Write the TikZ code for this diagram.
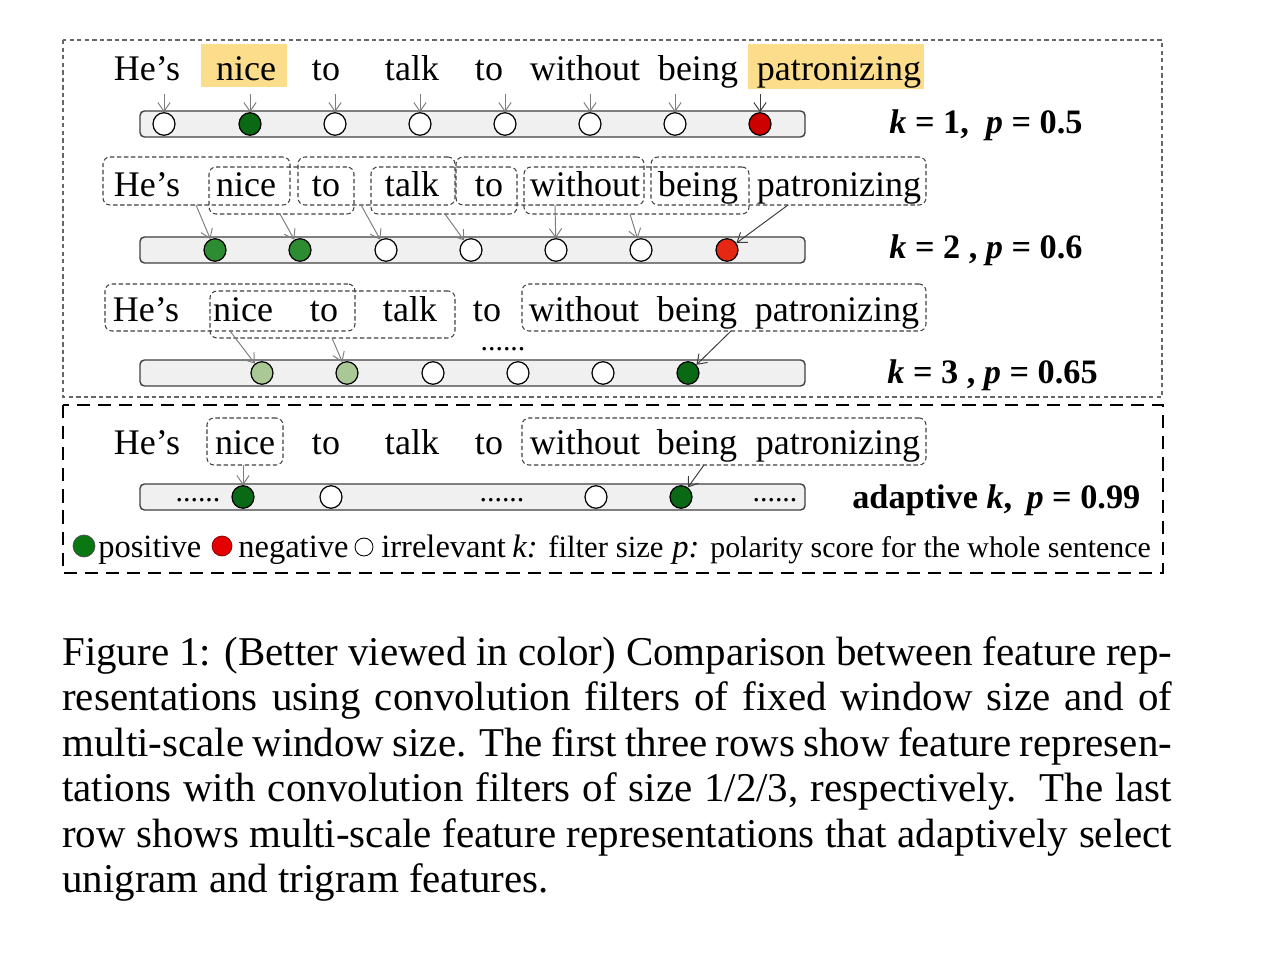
\documentclass[tikz,border=0pt]{standalone}
\usepackage{fontspec}
\setmainfont{Liberation Serif}
\usetikzlibrary{arrows.meta,shapes.geometric,fit,calc}

\definecolor{hl}{RGB}{252,221,140}
\definecolor{gdark}{RGB}{10,105,20}
\definecolor{gmid}{RGB}{45,140,50}
\definecolor{glight}{RGB}{170,200,150}
\definecolor{rdark}{RGB}{205,0,0}
\definecolor{rbright}{RGB}{228,40,20}
\definecolor{barfill}{RGB}{240,240,240}
\definecolor{arrgray}{RGB}{125,125,125}
\definecolor{arrdark}{RGB}{60,60,60}

\begin{document}
\begin{tikzpicture}[x=0.02cm,y=-0.02cm,
 word/.style={anchor=base,inner sep=0pt,font=\fontsize{20.5}{24}\selectfont},
 lab/.style={anchor=base west,inner sep=0pt,font=\fontsize{19.5}{23}\selectfont\bfseries},
 leg/.style={anchor=base west,inner sep=0pt,font=\fontsize{18.5}{21}\selectfont},
 dots/.style={anchor=base,inner sep=0pt,font=\fontsize{17}{20}\selectfont},
 capline/.style={anchor=base west,inner sep=0pt,font=\fontsize{23.3}{25.9}\selectfont},
 bar/.style={draw=black!75,line width=0.8pt,fill=barfill,rounded corners=2.5pt},
 unit/.style={ellipse,draw=black,line width=0.7pt,minimum width=0.44cm,minimum height=0.45cm,inner sep=0pt},
 arr/.style={draw=arrgray,line width=0.55pt,-{Straight Barb[length=5pt,width=7pt]}},
 arrd/.style={arr,draw=arrdark},
 win/.style={draw=black!75,dash pattern=on 2.5pt off 1.5pt,line width=0.6pt,rounded corners=4pt,inner sep=0pt},
]
\useasboundingbox (0,0) rectangle (1262,956);

% outer frames
\draw[draw=black!60, dash pattern=on 2.5pt off 1.8pt, line width=0.6pt] (63,40) rectangle (1162,397);
\draw[black, dash pattern=on 7.5pt off 4.5pt, line width=1.5pt] (63,405) rectangle (1163,573);

% ---------------- row 1 ----------------
\fill[hl] (201,44) rectangle (287,87);
\fill[hl] (748,44) rectangle (924,89);
\node[word] (w11) at (147,81) {He’s};
\node[word] (w12) at (246,81) {nice};
\node[word] (w13) at (326,81) {to};
\node[word] (w14) at (412,81) {talk};
\node[word] (w15) at (489,81) {to};
\node[word] (w16) at (585,81) {without};
\node[word] (w17) at (698,81) {being};
\node[word] (w18) at (839,81) {patronizing};
\draw[bar] (140,111) rectangle (805,137);
\foreach \i/\x/\c in {1/164/white,2/250/gdark,3/335/white,4/420/white,5/505/white,6/590/white,7/675/white,8/760/rdark}{
  \node[unit,fill=\c] (c1\i) at (\x,124) {};
  \coordinate (s1\i) at (\x,94);
}
\foreach \i in {1,...,7}{\draw[arr] (s1\i) -- (c1\i);}
\draw[arrd] (s18) -- (c18);
\node[lab] (l1) at (889,134) {\textit{k} = 1,~~\textit{p} = 0.5};

% ---------------- row 2 ----------------
\node[win,fit={(103,157) (290,205)}] (b2a) {};
\node[win,fit={(298,157) (455,205)}] (b2c) {};
\node[win,fit={(456,157) (644,205)}] (b2e) {};
\node[win,fit={(651,157) (926,205)}] (b2g) {};
\node[win,fit={(209,167) (354,214)}] (b2b) {};
\node[win,fit={(371,167) (517,214)}] (b2d) {};
\node[win,fit={(524,167) (749,214)}] (b2f) {};
\node[word] (w21) at (147,197) {He’s};
\node[word] (w22) at (246,197) {nice};
\node[word] (w23) at (326,197) {to};
\node[word] (w24) at (412,197) {talk};
\node[word] (w25) at (489,197) {to};
\node[word] (w26) at (585,197) {without};
\node[word] (w27) at (698,197) {being};
\node[word] (w28) at (839,197) {patronizing};
\draw[bar] (140,237) rectangle (805,263);
\foreach \i/\x/\c in {1/215/gmid,2/300/gmid,3/386/white,4/471/white,5/556/white,6/641/white,7/727/rbright}{
  \node[unit,fill=\c] (c2\i) at (\x,250) {};
}
\coordinate (s21) at (196,205);
\coordinate (s22) at (280,214);
\coordinate (s23) at (361,205);
\coordinate (s24) at (445,214);
\coordinate (s25) at (555,205);
\coordinate (s26) at (630,214);
\coordinate (s27) at (788,205);
\foreach \i in {1,...,6}{\draw[arr] (s2\i) -- (c2\i);}
\draw[arrd] (s27) -- (c27);
\node[lab] (l2) at (889,259) {\textit{k} = 2 ,~\textit{p} = 0.6};

% ---------------- row 3 ----------------
\node[win,fit={(105,284) (355,331)}] (b3a) {};
\node[win,fit={(210,291) (455,338)}] (b3b) {};
\node[win,fit={(522,284) (926,331)}] (b3c) {};
\node[word] (w31) at (146,322) {He’s};
\node[word] (w32) at (243,322) {nice};
\node[word] (w33) at (324,322) {to};
\node[word] (w34) at (410,322) {talk};
\node[word] (w35) at (487,322) {to};
\node[word] (w36) at (584,322) {without};
\node[word] (w37) at (697,322) {being};
\node[word] (w38) at (837,322) {patronizing};
\node[dots] (d3) at (503,351) {......};
\draw[bar] (140,360) rectangle (805,386);
\foreach \i/\x/\c in {1/262/glight,2/347/glight,3/433/white,4/518/white,5/603/white,6/688/gdark}{
  \node[unit,fill=\c] (c3\i) at (\x,373) {};
}
\coordinate (s31) at (230,331);
\coordinate (s32) at (332,338);
\coordinate (s36) at (731,331);
\draw[arr] (s31) -- (c31);
\draw[arr] (s32) -- (c32);
\draw[arrd] (s36) -- (c36);
\node[lab] (l3) at (887,383) {\textit{k} = 3 ,~\textit{p} = 0.65};

% ---------------- row 4 ----------------
\node[win,fit={(207,418) (283,465)}] (b4a) {};
\node[win,fit={(522,418) (926,465)}] (b4b) {};
\node[word] (w41) at (147,455) {He’s};
\node[word] (w42) at (245,455) {nice};
\node[word] (w43) at (326,455) {to};
\node[word] (w44) at (412,455) {talk};
\node[word] (w45) at (489,455) {to};
\node[word] (w46) at (585,455) {without};
\node[word] (w47) at (697,455) {being};
\node[word] (w48) at (838,455) {patronizing};
\draw[bar] (140,484) rectangle (805,510);
\foreach \i/\x/\c in {1/243/gdark,2/331/white,3/596/white,4/681/gdark}{
  \node[unit,fill=\c] (c4\i) at (\x,497) {};
}
\node[dots] (d41) at (198,501) {......};
\node[dots] (d42) at (502,501) {......};
\node[dots] (d43) at (775,501) {......};
\coordinate (s41) at (243,465);
\coordinate (s44) at (704,465);
\draw[arr] (s41) -- (c41);
\draw[arrd] (s44) -- (c44);
\node[lab] (l4) at (852,508) {adaptive \textit{k},\ \,\textit{p} = 0.99};

% ---------------- legend ----------------
\node[circle,fill=gdark!90!green,draw=black!70,line width=0.4pt,minimum size=0.44cm,inner sep=0pt] (gpos) at (84,546) {};
\node[leg] (tpos) at (98,557) {positive};
\node[circle,fill=red!90!black,draw=red!50!black,line width=0.4pt,minimum size=0.40cm,inner sep=0pt] (gneg) at (222,546) {};
\node[leg] (tneg) at (238,557) {negative};
\node[circle,fill=white,draw=black,line width=0.5pt,minimum size=0.36cm,inner sep=0pt] (girr) at (364,547) {};
\node[leg] (tirr) at (381,557) {irrelevant};
\node[leg] (tk) at (512,557) {\textit{k:}};
\node[leg,font=\fontsize{17.5}{21}\selectfont] (tks) at (548,557) {filter size};
\node[leg] (tp) at (672,557) {\textit{p:}};
\node[leg,font=\fontsize{17}{21}\selectfont] (tps) at (710,557) {polarity score for the whole sentence};

% ---------------- caption ----------------
\node[capline] (cap1) at (62,665) {\makebox[22.2cm][s]{Figure 1: (Better viewed in color) Comparison between feature rep-}};
\node[capline] (cap2) at (62,710.5) {\makebox[22.2cm][s]{resentations using convolution filters of fixed window size and of}};
\node[capline] (cap3) at (62,756) {\makebox[22.2cm][s]{multi-scale window size. The first three rows show feature represen-}};
\node[capline] (cap4) at (62,801.5) {\makebox[22.2cm][s]{tations with convolution filters of size 1/2/3, respectively.\ \ The last}};
\node[capline] (cap5) at (62,847) {\makebox[22.2cm][s]{row shows multi-scale feature representations that adaptively select}};
\node[capline] (cap6) at (62,892.5) {unigram and trigram features.};
\end{tikzpicture}
\end{document}
